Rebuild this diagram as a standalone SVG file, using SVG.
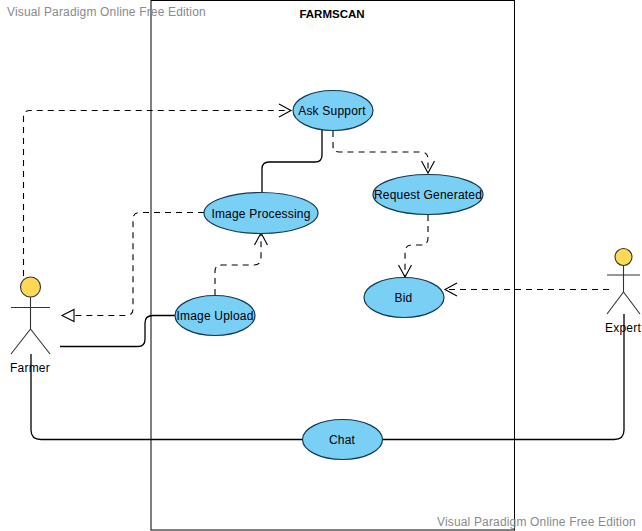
<svg xmlns="http://www.w3.org/2000/svg" width="642" height="531" viewBox="0 0 642 531">
<defs>
<marker id="open" markerUnits="userSpaceOnUse" markerWidth="16" markerHeight="16" refX="13" refY="7" orient="auto" overflow="visible"><path d="M1 0.5L13 7L1 13.5" fill="none" stroke="#000" stroke-width="1.1"/></marker>
<marker id="tri" markerUnits="userSpaceOnUse" markerWidth="16" markerHeight="16" refX="13" refY="7" orient="auto" overflow="visible"><path d="M1 1L13 7L1 13Z" fill="#fff" stroke="#000" stroke-width="1.1"/></marker>
</defs>
<style>
text{font-family:"Liberation Sans",Arial,sans-serif;font-size:12px;fill:#000;letter-spacing:.2px}
.uc{fill:#7acff5;stroke:#123a52;stroke-width:1.2}
.c{text-anchor:middle}
.wm{fill:#8a8a8a;letter-spacing:.16px}
.conn{fill:none;stroke:#000;stroke-width:1.3}
.dash{stroke-dasharray:6 5;stroke-width:1.1}
.act{fill:none;stroke:#333;stroke-width:1.1}
.head{fill:#ffd856;stroke:#333;stroke-width:1.1}
.title{font-weight:bold;font-size:11.500px;letter-spacing:0}
</style>
<rect width="642" height="531" fill="#fff"/>
<g id="system">
<rect x="151" y="0.500" width="363.500" height="529.500" fill="none" stroke="#000" stroke-width="1"/>
<text class="c title" x="332" y="18">FARMSCAN</text>
</g>
<g id="connectors">
<path class="conn dash" d="M23.500 276V117Q23.500 110.500 30 110.500H291" marker-end="url(#open)"/>
<path class="conn" d="M322 130V155Q322 162 315 162H269Q262 162 262 169V193"/>
<path class="conn dash" d="M333 131V146Q333 152 339 152H421Q428 152 428 159V173" marker-end="url(#open)"/>
<path class="conn dash" d="M428 215V238Q428 245 421 245H412Q405 245 405 252V277" marker-end="url(#open)"/>
<path class="conn dash" d="M609 289.500H445" marker-end="url(#open)"/>
<path class="conn dash" d="M204 212.500H140Q133 212.500 133 219V309Q133 315.500 126 315.500H62" marker-end="url(#tri)"/>
<path class="conn dash" d="M215 295V271Q215 265 222 265H254Q261 265 261 258V233" marker-end="url(#open)"/>
<path class="conn" d="M60 346.500H138Q145 346.500 145 339V323Q145 315.500 153 315.500H175"/>
<path class="conn" d="M31 354V430Q31 439.500 41 439.500H302"/>
<path class="conn" d="M383 439.500H614Q624 439.500 624 430V314"/>
</g>
<g id="ask-support"><ellipse class="uc" cx="333" cy="110.500" rx="40" ry="20"/><text class="c" x="332" y="115">Ask Support</text></g>
<g id="image-processing"><ellipse class="uc" cx="261" cy="213" rx="57" ry="20.500"/><text class="c" x="261" y="218">Image Processing</text></g>
<g id="request-generated"><ellipse class="uc" cx="428" cy="194.500" rx="55" ry="20"/><text class="c" x="428" y="199">Request Generated</text></g>
<g id="image-upload"><ellipse class="uc" cx="215" cy="315.500" rx="40" ry="20"/><text class="c" x="215" y="320">Image Upload</text></g>
<g id="bid"><ellipse class="uc" cx="404" cy="297.500" rx="40" ry="20"/><text class="c" x="403.500" y="302">Bid</text></g>
<g id="chat"><ellipse class="uc" cx="342.500" cy="439.500" rx="40" ry="20"/><text class="c" x="342" y="444">Chat</text></g>
<g id="farmer">
<circle class="head" cx="30.500" cy="287" r="10"/>
<path class="act" d="M30.500 297V329M11 307.500H50M30.500 329L11 354M30.500 329L50 354"/>
<text class="c" x="30" y="372">Farmer</text>
</g>
<g id="expert">
<circle class="head" cx="623.500" cy="257" r="8.500"/>
<path class="act" d="M623.500 266V292M607 275H640M623.500 292L607 314M623.500 292L640 314"/>
<text class="c" x="623" y="332">Expert</text>
</g>
<g id="watermarks">
<text class="wm" x="7" y="16">Visual Paradigm Online Free Edition</text>
<text class="wm" x="437" y="526">Visual Paradigm Online Free Edition</text>
</g>
</svg>
